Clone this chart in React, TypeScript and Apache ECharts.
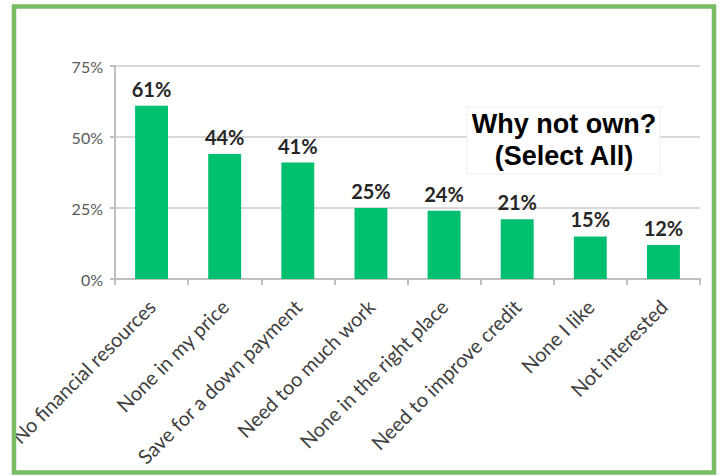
import React, { useEffect, useRef } from "react";
import * as echarts from "echarts";

const categories = [
  "No financial resources",
  "None in my price",
  "Save for a down payment",
  "Need too much work",
  "None in the right place",
  "Need to improve credit",
  "None I like",
  "Not interested",
];
const values = [61, 44, 41, 25, 24, 21, 15, 12];
const yTicks = [0, 25, 50, 75];
const titleLines = ["Why not own?", "(Select All)"];

export default function App() {
  const ref = useRef<HTMLDivElement>(null);
  useEffect(() => {
    if (!ref.current) return;
    const chart = echarts.init(ref.current, null, { renderer: "svg" });
    chart.setOption({
      animation: false,
      backgroundColor: "#ffffff",
      grid: {
        left: 115,
        right: 21,
        top: 66,
        bottom: 197,
        containLabel: false,
        outerBoundsMode: "none",
      },
      xAxis: {
        type: "category",
        data: categories,
        axisLine: { lineStyle: { color: "#bfbfbf", width: 2 } },
        axisTick: { show: true, length: 6, lineStyle: { color: "#bfbfbf", width: 2 } },
        axisLabel: {
          rotate: 45,
          interval: 0,
          margin: 24,
          fontFamily: "Lato",
          fontSize: 20,
          color: "#404040",
        },
      },
      yAxis: {
        type: "value",
        min: yTicks[0],
        max: yTicks[yTicks.length - 1],
        interval: 25,
        axisLine: { show: true, lineStyle: { color: "#bfbfbf", width: 2 } },
        axisTick: { show: true, length: 5, lineStyle: { color: "#bfbfbf", width: 2 } },
        splitLine: { show: true, lineStyle: { color: "#d9d9d9", width: 2 } },
        axisLabel: {
          formatter: "{value}%",
          margin: 12,
          fontFamily: "Lato",
          fontSize: 16,
          color: "#595959",
        },
      },
      series: [
        {
          type: "bar",
          data: values,
          barWidth: "45%",
          itemStyle: { color: "#00bf6f" },
          label: {
            show: true,
            position: "top",
            distance: 7,
            formatter: "{c}%",
            fontFamily: "Lato",
            fontWeight: "bold",
            fontSize: 20,
            color: "#262626",
          },
        },
      ],
      graphic: [
        {
          type: "rect",
          z: 100,
          shape: { x: 14, y: 6.5, width: 700, height: 466 },
          style: { fill: "none", stroke: "#78bc65", lineWidth: 4.5 },
        },
        {
          type: "rect",
          z: 100,
          shape: { x: 467, y: 107, width: 193, height: 67 },
          style: { fill: "#ffffff", stroke: "#eeeeee", lineWidth: 1 },
        },
        {
          type: "text",
          z: 101,
          x: 564,
          y: 140,
          style: {
            text: titleLines.join("\n"),
            fontFamily: "Liberation Sans",
            fontWeight: "bold",
            fontSize: 27,
            lineHeight: 32,
            align: "center",
            verticalAlign: "middle",
            fill: "#000000",
          },
        },
      ],
    });
    return () => chart.dispose();
  }, []);
  return (
    <div
      ref={ref}
      style={{ position: "absolute", left: 0, top: 0, width: 721, height: 476 }}
    />
  );
}
